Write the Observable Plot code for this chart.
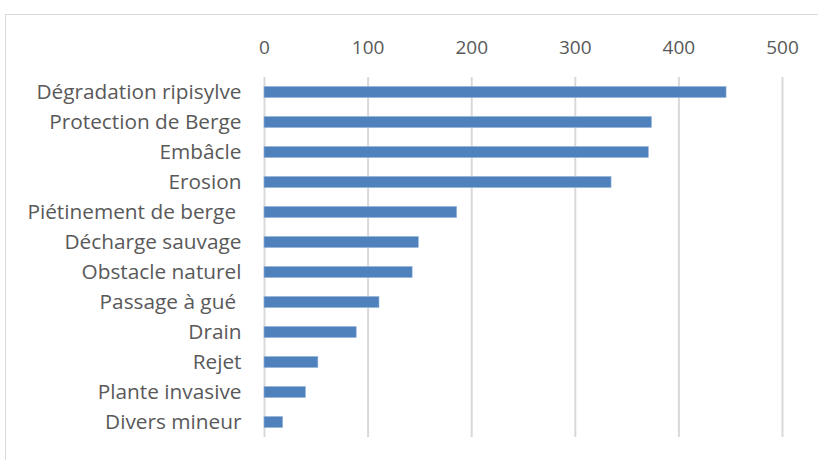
<!DOCTYPE html>
<html>
<head>
<meta charset="utf-8">
<script src="https://cdn.jsdelivr.net/npm/d3@7"></script>
<script src="https://cdn.jsdelivr.net/npm/@observablehq/plot@0.6"></script>
<style>
  body { margin: 0; background: #fff; }
  #wrap { position: relative; width: 818px; height: 460px; overflow: hidden; }
  #frame { position: absolute; left: 5px; top: 14px; width: 900px; height: 500px; border: 1px solid #d9d9d9; box-sizing: border-box; }
  #chart { position: absolute; left: 0; top: 0; }
</style>
</head>
<body>
<div id="wrap"><div id="frame"></div><div id="chart"></div></div>
<script>
const categories = ["Dégradation ripisylve", "Protection de Berge", "Embâcle", "Erosion", "Piétinement de berge ", "Décharge sauvage", "Obstacle naturel", "Passage à gué ", "Drain", "Rejet", "Plante invasive", "Divers mineur"];
const values = [446, 374, 371, 335, 186, 149, 143, 111, 89, 52, 40, 18];
const xTicks = [0, 100, 200, 300, 400, 500];

const data = categories.map((c, i) => ({category: c, value: values[i]}));

const chart = Plot.plot({
  width: 818,
  height: 460,
  marginLeft: 264,
  marginRight: 36,
  marginTop: 77,
  marginBottom: 23,
  style: {fontFamily: "'Open Sans', sans-serif", fontSize: "18px", color: "#595959", background: "transparent"},
  x: {domain: [0, 500], ticks: xTicks, axis: null, label: null},
  y: {domain: categories, paddingInner: 0.63, paddingOuter: 0.315, round: false, axis: null, label: null},
  marks: [
    Plot.gridX(xTicks, {stroke: "#d9d9d9", strokeOpacity: 1, strokeWidth: 2}),
    Plot.barX(data, {y: "category", x: "value", fill: "#4f81bd", stroke: "#9ab6db", strokeWidth: 0.6}),
    Plot.axisX(xTicks, {anchor: "top", label: null, tickSize: 0, tickPadding: 24, fontSize: 19, fill: "#595959", tickFormat: d => String(d)}),
    Plot.axisY({anchor: "left", label: null, tickSize: 0, tickPadding: 23, fontSize: 20.8, fill: "#595959"})
  ]
});
document.getElementById("chart").appendChild(chart);
</script>
</body>
</html>
